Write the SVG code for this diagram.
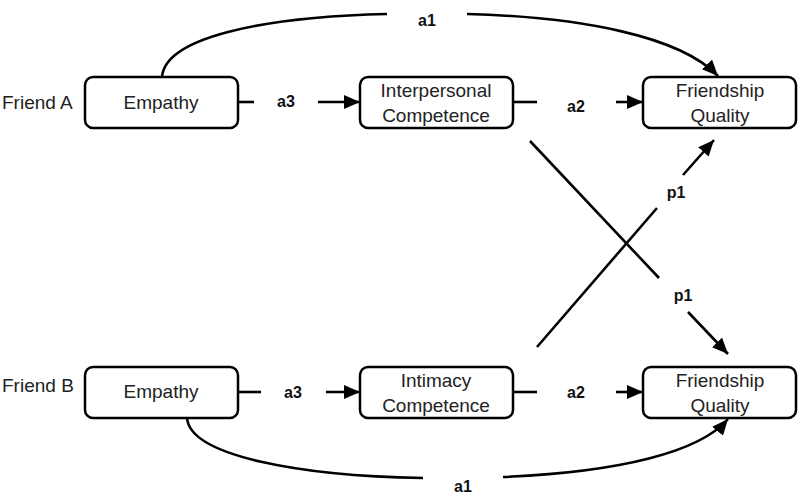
<svg xmlns="http://www.w3.org/2000/svg" width="800" height="496" viewBox="0 0 800 496">
<style>
.box{fill:#fff;stroke:#000;stroke-width:2.5}
.t{font-family:"Liberation Sans",Arial,sans-serif;font-size:19px;fill:#222;text-anchor:middle}
.side{font-family:"Liberation Sans",Arial,sans-serif;font-size:19px;fill:#222}
.lbl{font-family:"Liberation Sans",Arial,sans-serif;font-size:16px;font-weight:bold;fill:#111;text-anchor:middle}
.c{fill:none;stroke:#000;stroke-width:2.6}
</style>
<defs>
<marker id="ah" markerUnits="userSpaceOnUse" markerWidth="17" markerHeight="15" refX="16" refY="7" orient="auto">
<path d="M0,0 L16,7 L0,14 z" fill="#000"/>
</marker>
</defs>
<rect width="800" height="496" fill="#fff"/>
<text class="side" x="2" y="109">Friend A</text>
<text class="side" x="2" y="392">Friend B</text>
<g id="connectors">
<path class="c" d="M162,77 C165,38 260,17 387,14"/>
<path class="c" d="M467,14 C580,17 680,36 718,76" marker-end="url(#ah)"/>
<path class="c" d="M187,418 C190,456 300,476 423,478"/>
<path class="c" d="M503,477 C620,472 700,452 728,419" marker-end="url(#ah)"/>
<line class="c" x1="238" y1="102" x2="254" y2="102"/>
<line class="c" x1="318" y1="102" x2="360" y2="102" marker-end="url(#ah)"/>
<line class="c" x1="513" y1="102" x2="537" y2="102"/>
<line class="c" x1="616" y1="102" x2="643" y2="102" marker-end="url(#ah)"/>
<line class="c" x1="238" y1="392" x2="261" y2="392"/>
<line class="c" x1="326" y1="392" x2="360" y2="392" marker-end="url(#ah)"/>
<line class="c" x1="513" y1="392" x2="537" y2="392"/>
<line class="c" x1="616" y1="392" x2="643" y2="392" marker-end="url(#ah)"/>
<line class="c" x1="530" y1="141" x2="659" y2="278"/>
<line class="c" x1="688" y1="312" x2="728" y2="354" marker-end="url(#ah)"/>
<line class="c" x1="537" y1="347" x2="657" y2="208"/>
<line class="c" x1="683" y1="175" x2="714" y2="140" marker-end="url(#ah)"/>
<text class="lbl" x="427" y="26">a1</text>
<text class="lbl" x="463" y="492">a1</text>
<text class="lbl" x="286" y="107">a3</text>
<text class="lbl" x="576" y="112">a2</text>
<text class="lbl" x="293" y="398">a3</text>
<text class="lbl" x="576" y="398">a2</text>
<text class="lbl" x="676" y="198">p1</text>
<text class="lbl" x="683" y="301">p1</text>
</g>
<g id="empathyA">
<rect class="box" x="85" y="77" width="153" height="51" rx="8"/>
<text class="t" x="161" y="109">Empathy</text>
</g>
<g id="interpersonal">
<rect class="box" x="360" y="77" width="153" height="51" rx="8"/>
<text class="t" x="436" y="97">Interpersonal</text>
<text class="t" x="436" y="122">Competence</text>
</g>
<g id="fqA">
<rect class="box" x="643" y="77" width="153" height="51" rx="8"/>
<text class="t" x="720" y="97">Friendship</text>
<text class="t" x="720" y="122">Quality</text>
</g>
<g id="empathyB">
<rect class="box" x="85" y="367" width="153" height="51" rx="8"/>
<text class="t" x="161" y="398">Empathy</text>
</g>
<g id="intimacy">
<rect class="box" x="360" y="367" width="153" height="51" rx="8"/>
<text class="t" x="436" y="387">Intimacy</text>
<text class="t" x="436" y="412">Competence</text>
</g>
<g id="fqB">
<rect class="box" x="643" y="367" width="153" height="51" rx="8"/>
<text class="t" x="720" y="387">Friendship</text>
<text class="t" x="720" y="412">Quality</text>
</g>
</svg>
